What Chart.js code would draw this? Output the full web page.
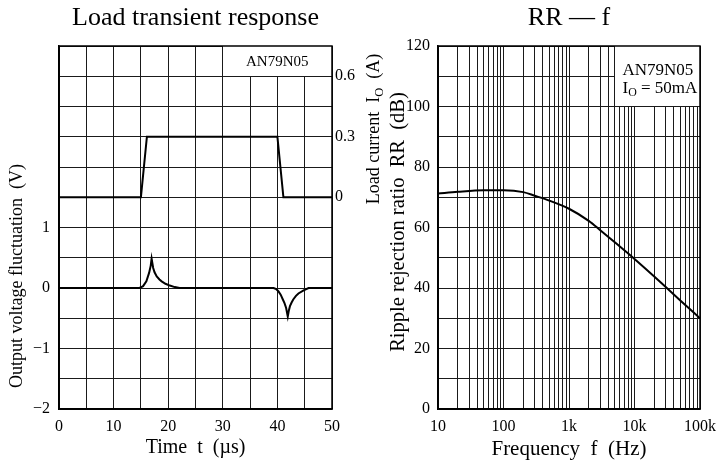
<!DOCTYPE html>
<html><head><meta charset="utf-8">
<script src="https://cdn.jsdelivr.net/npm/chart.js@4.4.0/dist/chart.umd.min.js"></script>
<style>
html,body{margin:0;padding:0;background:#fff;}
#wrap{position:relative;width:724px;height:463px;overflow:hidden;background:#fff;}
canvas{position:absolute;left:0;top:0;}
</style></head><body>
<div id="wrap"><canvas id="c1" width="724" height="463"></canvas><canvas id="c2" width="724" height="463"></canvas></div>
<script>
const FONT = "'Liberation Serif','Times New Roman',serif";
const INK = '#000';
const GRID = '#1a1a1a';

// ---------- Left chart: Load transient response ----------
const leftTitle = 'Load transient response';
const leftXTitle = 'Time  t  (µs)';
const leftYTitle = 'Output voltage fluctuation  (V)';
const leftY2TitleParts = ['Load current  I', 'O', '  (A)'];
const leftBoxText = 'AN79N05';

const voltTimeUs = [0, 14.6, 15.0, 15.4, 16.0, 16.5, 16.8, 16.96, 17.25, 17.5, 17.9, 18.4, 18.8, 19.5, 20.3, 21.2, 22.1, 39.3, 39.8, 40.2, 40.6, 41.0, 41.3, 41.6, 41.9, 42.1, 42.3, 42.6, 42.9, 43.4, 43.85, 44.8, 45.7, 50];
const voltageV   = [0, 0,    0.01, 0.03, 0.11, 0.25, 0.37, 0.485, 0.33, 0.26, 0.19, 0.14, 0.11, 0.07, 0.04, 0.015, 0,  0,    -0.02, -0.055, -0.11, -0.19, -0.25, -0.33, -0.47, -0.37, -0.30, -0.24, -0.19, -0.13, -0.09, -0.04, 0, 0];

const currTimeUs = [0, 15.0, 16.1, 40.0, 41.1, 50];
const currentA   = [0, 0,    0.3,  0.3,  0,    0];

const leftXLabels = [0, 10, 20, 30, 40, 50];
const leftYLabels = [-2, -1, 0, 1];
const currentTickValues = [0, 0.3, 0.6];

// ---------- Right chart: RR — f ----------
const rightTitle = 'RR — f';
const rightXTitle = 'Frequency  f  (Hz)';
const rightYTitle = 'Ripple rejection ratio  RR  (dB)';
const rightBoxLine1 = 'AN79N05';
const rightBoxLine2Parts = ['I', 'O', ' = 50mA'];

const freqHz   = [10,   20,   50,   100,  200,  300,  500,  1000, 2000, 3000, 5000, 10000, 20000, 30000, 50000, 100000];
const rippleDb = [71.2, 71.8, 72.3, 72.3, 71.7, 70.5, 68.9, 66.2, 62.2, 59.1, 55.1, 49.6,  43.8,  40.3,  35.9,  30.0];

const decadeValues = [10, 100, 1000, 10000, 100000];
const decadeLabels = ['10', '100', '1k', '10k', '100k'];
const rrLabelValues = [0, 20, 40, 60, 80, 100, 120];

function minus(v){ return v < 0 ? '\u2212' + Math.abs(v) : String(v); }

function rotText(ctx, parts, x, y, size){
  ctx.save();
  ctx.translate(x, y);
  ctx.rotate(-Math.PI/2);
  ctx.fillStyle = INK;
  ctx.textBaseline = 'alphabetic';
  ctx.textAlign = 'left';
  let total = 0;
  parts.forEach(p => { ctx.font = (size*p[1]) + 'px ' + FONT; total += ctx.measureText(p[0]).width; });
  let cx = -total/2;
  parts.forEach(p => { ctx.font = (size*p[1]) + 'px ' + FONT; ctx.fillText(p[0], cx, p[2]); cx += ctx.measureText(p[0]).width; });
  ctx.restore();
}
function partsText(ctx, parts, x, y, size){
  ctx.save();
  ctx.fillStyle = INK;
  ctx.textBaseline = 'alphabetic';
  ctx.textAlign = 'left';
  let cx = x;
  parts.forEach(p => { ctx.font = (size*p[1]) + 'px ' + FONT; ctx.fillText(p[0], cx, y + p[2]); cx += ctx.measureText(p[0]).width; });
  ctx.restore();
}
function al(p){ return Math.round(p - 0.5) + 0.5; }

const tickFont = {family: FONT, size: 16};

const leftPlugin = {
  id: 'leftDeco',
  beforeDatasetsDraw(chart){
    const {ctx, chartArea: a, scales: {x, y}} = chart;
    const L = al(x.getPixelForValue(30)), B = al(y.getPixelForValue(3.5));
    ctx.save();
    ctx.fillStyle = '#fff';
    ctx.fillRect(L + 0.5, a.top, a.right - L - 0.5, B - a.top - 0.5);
    ctx.strokeStyle = GRID; ctx.lineWidth = 1;
    ctx.beginPath(); ctx.moveTo(L, a.top); ctx.lineTo(L, B); ctx.lineTo(a.right, B); ctx.stroke();
    ctx.strokeStyle = INK; ctx.lineWidth = 1.5;
    ctx.strokeRect(a.left, a.top, a.right - a.left, a.bottom - a.top);
    ctx.fillStyle = INK; ctx.font = '15px ' + FONT; ctx.textAlign = 'center'; ctx.textBaseline = 'alphabetic';
    ctx.fillText(leftBoxText, (L + a.right)/2, (a.top + B)/2 + 5);
    ctx.restore();
  },
  afterDraw(chart){
    const {ctx, chartArea: a} = chart;
    ctx.save();
    ctx.fillStyle = INK;
    ctx.textAlign = 'center'; ctx.textBaseline = 'alphabetic';
    ctx.font = '26px ' + FONT;
    ctx.fillText(leftTitle, (a.left + a.right)/2, 25);
    ctx.font = '20px ' + FONT;
    ctx.fillText(leftXTitle, (a.left + a.right)/2, 453);
    ctx.restore();
    rotText(ctx, [[leftYTitle, 1, 0]], 22, 276, 18);
    rotText(ctx, [[leftY2TitleParts[0], 1, 0], [leftY2TitleParts[1], 0.7, 4], [leftY2TitleParts[2], 1, 0]], 379, 129, 18);
  }
};

new Chart(document.getElementById('c1'), {
  type: 'line',
  data: {
    datasets: [
      {label: 'Output voltage', data: voltTimeUs.map((t,i)=>({x:t, y:voltageV[i]})), yAxisID: 'y',
       borderColor: INK, borderWidth: 2, pointRadius: 0, tension: 0, fill: false},
      {label: 'Load current', data: currTimeUs.map((t,i)=>({x:t, y:currentA[i]})), yAxisID: 'y2',
       borderColor: INK, borderWidth: 2, pointRadius: 0, tension: 0, fill: false}
    ]
  },
  options: {
    responsive: false, animation: false, devicePixelRatio: 1,
    layout: {autoPadding: false, padding: {left: 0, right: 352, top: 46, bottom: 0}},
    plugins: {legend: {display: false}, tooltip: {enabled: false}, title: {display: false}},
    scales: {
      x: {type: 'linear', min: 0, max: 50,
          ticks: {stepSize: 5, autoSkip: false, maxRotation: 0, padding: 8, color: INK, font: tickFont,
                  callback: v => leftXLabels.includes(v) ? String(v) : ''},
          grid: {color: GRID, lineWidth: 1, drawTicks: false},
          border: {display: true, color: INK, width: 1.5},
          afterFit: s => { s.height = 54; }},
      y: {type: 'linear', position: 'left', min: -2, max: 4,
          ticks: {stepSize: 0.5, autoSkip: false, padding: 9, color: INK, font: tickFont,
                  callback: v => leftYLabels.includes(v) ? minus(v) : ''},
          grid: {color: GRID, lineWidth: 1, drawTicks: false},
          border: {display: true, color: INK, width: 1.5},
          afterFit: s => { s.width = 59; }},
      y2: {type: 'linear', position: 'right', min: -1.05, max: 0.75,
          afterBuildTicks: s => { s.ticks = currentTickValues.map(v => ({value: v})); },
          ticks: {autoSkip: false, padding: 3, color: INK, font: tickFont,
                  callback: v => String(v)},
          grid: {display: false, drawTicks: false},
          border: {display: false},
          afterFit: s => { s.width = 40; }}
    }
  },
  plugins: [leftPlugin]
});

// ---------- Right chart ----------
const rightPlugin = {
  id: 'rightDeco',
  beforeDatasetsDraw(chart){
    const {ctx, chartArea: a, scales: {x, y}} = chart;
    const L = al(x.getPixelForValue(5000)), B = al(y.getPixelForValue(100));
    ctx.save();
    ctx.fillStyle = '#fff';
    ctx.fillRect(L + 0.5, a.top, a.right - L - 0.5, B - a.top - 0.5);
    ctx.strokeStyle = GRID; ctx.lineWidth = 1;
    ctx.beginPath(); ctx.moveTo(L, a.top); ctx.lineTo(L, B); ctx.lineTo(a.right, B); ctx.stroke();
    ctx.strokeStyle = INK; ctx.lineWidth = 1.5;
    ctx.strokeRect(a.left, a.top, a.right - a.left, a.bottom - a.top);
    ctx.fillStyle = INK; ctx.font = '17px ' + FONT; ctx.textAlign = 'left'; ctx.textBaseline = 'alphabetic';
    ctx.fillText(rightBoxLine1, L + 8, a.top + 29);
    ctx.restore();
    partsText(ctx, [[rightBoxLine2Parts[0], 1, 0], [rightBoxLine2Parts[1], 0.7, 3], [rightBoxLine2Parts[2], 1, 0]], L + 8, a.top + 47, 17);
  },
  afterDraw(chart){
    const {ctx, chartArea: a} = chart;
    ctx.save();
    ctx.fillStyle = INK;
    ctx.textAlign = 'center'; ctx.textBaseline = 'alphabetic';
    ctx.font = '26px ' + FONT;
    ctx.fillText(rightTitle, (a.left + a.right)/2, 25);
    ctx.font = '21px ' + FONT;
    ctx.fillText(rightXTitle, (a.left + a.right)/2, 455);
    ctx.restore();
    rotText(ctx, [[rightYTitle, 1, 0]], 404, 222, 20.5);
  }
};

const freqGrid = [];
for (let d = 0; d < decadeValues.length - 1; d++) {
  for (let m = 1; m <= 9; m++) freqGrid.push(decadeValues[d] * m);
}
freqGrid.push(decadeValues[decadeValues.length - 1]);

new Chart(document.getElementById('c2'), {
  type: 'line',
  data: {
    datasets: [
      {label: 'RR', data: freqHz.map((f,i)=>({x:f, y:rippleDb[i]})),
       borderColor: INK, borderWidth: 2, pointRadius: 0, cubicInterpolationMode: 'monotone', fill: false}
    ]
  },
  options: {
    responsive: false, animation: false, devicePixelRatio: 1,
    layout: {autoPadding: false, padding: {left: 0, right: 14, top: 46, bottom: 0}},
    plugins: {legend: {display: false}, tooltip: {enabled: false}, title: {display: false}},
    scales: {
      x: {type: 'logarithmic', min: 10, max: 100000,
          afterBuildTicks: s => { s.ticks = freqGrid.map(v => ({value: v})); },
          ticks: {autoSkip: false, maxRotation: 0, padding: 8, color: INK, font: tickFont,
                  callback: v => { const i = decadeValues.indexOf(v); return i >= 0 ? decadeLabels[i] : ''; }},
          grid: {color: GRID, lineWidth: 1, drawTicks: false},
          border: {display: true, color: INK, width: 1.5},
          afterFit: s => { s.height = 54; }},
      y: {type: 'linear', position: 'left', min: 0, max: 120,
          ticks: {stepSize: 10, autoSkip: false, padding: 8, color: INK, font: tickFont,
                  callback: v => rrLabelValues.includes(v) ? String(v) : ''},
          grid: {color: GRID, lineWidth: 1, drawTicks: false},
          border: {display: true, color: INK, width: 1.5},
          afterFit: s => { s.width = 438; }}
    }
  },
  plugins: [rightPlugin]
});
</script>
</body></html>
